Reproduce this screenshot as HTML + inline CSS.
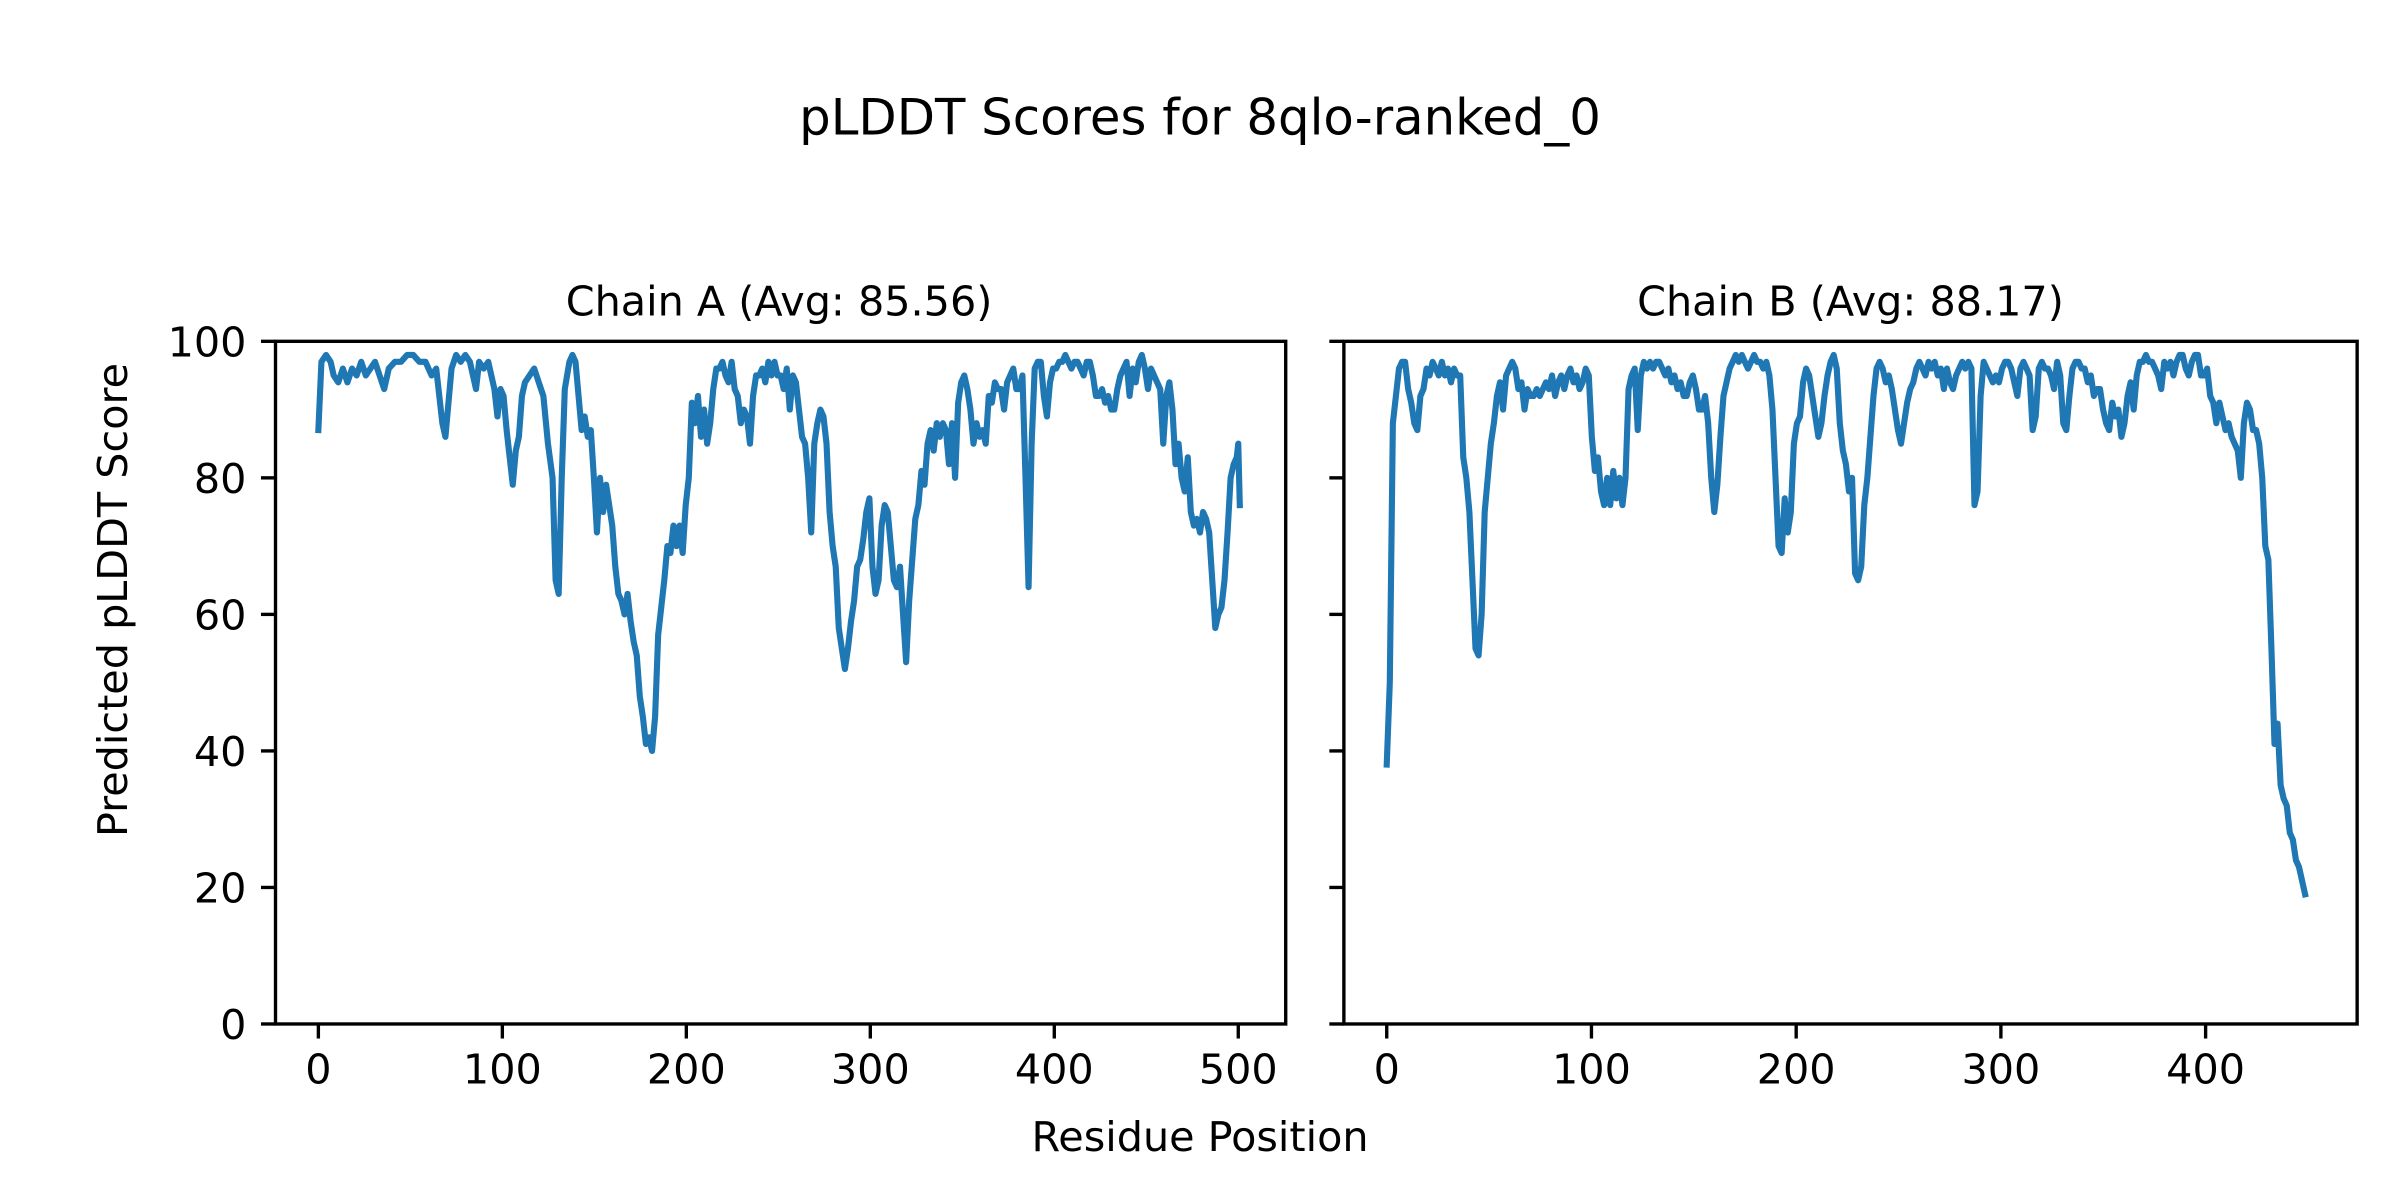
<!DOCTYPE html>
<html><head><meta charset="utf-8"><style>
html,body{margin:0;padding:0;background:#fff;}
svg{display:block;}
text{font-family:"DejaVu Sans","Liberation Sans",sans-serif;fill:#000;}
</style></head><body>
<svg id="s" xmlns="http://www.w3.org/2000/svg" width="2400" height="1200" viewBox="0 0 1568 784">
<rect width="1568" height="784" fill="#fff"/>
<text x="784" y="88" font-size="32.5" text-anchor="middle">pLDDT Scores for 8qlo-ranked_0</text>
<text x="509" y="206" font-size="27" text-anchor="middle">Chain A (Avg: 85.56)</text>
<text x="1209" y="206" font-size="27" text-anchor="middle">Chain B (Avg: 88.17)</text>
<text x="784" y="752" font-size="27" text-anchor="middle">Residue Position</text>
<text transform="translate(83,392) rotate(-90)" font-size="27" text-anchor="middle">Predicted pLDDT Score</text>
<g id="g"></g>
<rect x="180" y="223" width="660" height="446" fill="none" stroke="#000" stroke-width="2.2"/>
<rect x="878" y="223" width="662" height="446" fill="none" stroke="#000" stroke-width="2.2"/>
</svg>
<script>
var A=[208,87,210,97,213,98,216,97,218,95,221,94,224,96,227,94,230,96,233,95,236,97,239,95,242,96,245,97,248,95,251,93,254,96,258,97,262,97,266,98,270,98,274,97,278,97,282,95,285,96,287,92,289,88,291,86,293,91,295,96,298,98,301,97,304,98,307,97,309,95,311,93,313,97,316,96,319,97,321,95,323,93,325,89,327,93,329,92,331,87,333,83,335,79,337,84,339,86,341,92,343,94,346,95,349,96,352,94,355,92,358,85,361,80,363,65,365,63,367,80,369,93,372,97,374,98,376,97,378,92,380,87,382,89,384,86,386,87,388,80,390,72,392,80,394,75,396,79,398,76,400,73,402,67,404,63,406,62,408,60,410,63,412,59,414,56,416,54,418,48,420,45,422,41,424,42,426,40,428,45,430,57,432,61,434,65,436,70,438,69,440,73,442,70,444,73,446,69,448,76,450,80,452,91,454,88,456,92,458,86,460,90,462,85,464,88,466,93,468,96,470,96,472,97,474,95,476,94,478,97,480,93,482,92,484,88,486,90,488,89,490,85,492,92,494,95,496,95,498,96,500,94,502,97,504,95,506,97,508,95,510,95,512,93,514,96,516,90,518,95,520,94,522,90,524,86,526,85,528,80,530,72,532,85,534,88,536,90,538,89,540,85,542,75,544,70,546,67,548,58,550,55,552,52,554,55,556,59,558,62,560,67,562,68,564,71,566,75,568,77,570,67,572,63,574,65,576,73,578,76,580,75,582,70,584,65,586,64,588,67,590,60,592,53,594,62,596,68,598,74,600,76,602,81,604,79,606,85,608,87,610,84,612,88,614,86,616,88,618,87,620,82,622,88,624,80,626,91,628,94,630,95,632,93,634,90,636,85,638,88,640,86,642,87,644,85,646,92,648,91,650,94,652,93,654,93,656,90,658,94,660,95,662,96,664,93,666,93,668,95,670,80,672,64,674,85,676,96,678,97,680,97,682,92,684,89,686,94,688,96,690,96,692,97,694,97,696,98,698,97,700,96,702,97,704,97,706,96,708,95,710,97,712,97,714,95,716,92,718,92,720,93,722,91,724,92,726,90,728,90,730,93,732,95,734,96,736,97,738,92,740,96,742,94,744,97,746,98,748,96,750,93,752,96,754,95,756,94,758,93,760,85,762,92,764,94,766,90,768,82,770,85,772,80,774,78,776,83,778,75,780,73,782,74,784,72,786,75,788,74,790,72,792,65,794,58,796,60,798,61,800,65,802,72,804,80,806,82,808,83,809,85,810,76];
var B=[906,38,908,50,910,88,912,92,914,96,916,97,918,97,920,93,922,91,924,88,926,87,928,92,930,93,932,96,934,95,936,97,938,96,940,95,942,97,944,95,946,96,948,94,950,96,952,95,954,95,956,83,958,80,960,75,962,65,964,55,966,54,968,60,970,75,972,80,974,85,976,88,978,92,980,94,982,90,984,95,986,96,988,97,990,96,992,93,994,94,996,90,998,93,1000,92,1002,92,1004,93,1006,92,1008,93,1010,94,1012,93,1014,95,1016,92,1018,94,1020,95,1022,93,1024,95,1026,96,1028,94,1030,95,1032,93,1034,94,1036,96,1038,95,1040,86,1042,81,1044,83,1046,78,1048,76,1050,80,1052,76,1054,81,1056,77,1058,80,1060,76,1062,80,1064,93,1066,95,1068,96,1070,87,1072,95,1074,97,1076,96,1078,97,1080,96,1082,97,1084,97,1086,96,1088,95,1090,96,1092,94,1094,95,1096,93,1098,94,1100,92,1102,92,1104,94,1106,95,1108,93,1110,90,1112,90,1114,92,1116,88,1118,80,1120,75,1122,79,1124,86,1126,92,1128,94,1130,96,1132,97,1134,98,1136,97,1138,98,1140,97,1142,96,1144,97,1146,98,1148,97,1150,97,1152,96,1154,97,1156,95,1158,90,1160,80,1162,70,1164,69,1166,77,1168,72,1170,75,1172,85,1174,88,1176,89,1178,94,1180,96,1182,95,1184,92,1186,89,1188,86,1190,88,1192,92,1194,95,1196,97,1198,98,1200,96,1202,88,1204,84,1206,82,1208,78,1210,80,1212,66,1214,65,1216,67,1218,76,1220,80,1222,86,1224,92,1226,96,1228,97,1230,96,1232,94,1234,95,1236,93,1238,90,1240,87,1242,85,1244,88,1246,91,1248,93,1250,94,1252,96,1254,97,1256,96,1258,95,1260,97,1262,96,1264,97,1266,95,1268,96,1270,93,1272,96,1274,94,1276,93,1278,95,1280,96,1282,97,1284,96,1286,97,1288,96,1290,76,1292,78,1294,92,1296,97,1298,96,1300,95,1302,94,1304,95,1306,94,1308,96,1310,97,1312,97,1314,96,1316,94,1318,92,1320,96,1322,97,1324,96,1326,95,1328,87,1330,89,1332,96,1334,97,1336,96,1338,96,1340,95,1342,93,1344,97,1346,95,1348,88,1350,87,1352,92,1354,96,1356,97,1358,97,1360,96,1362,96,1364,94,1366,95,1368,92,1370,93,1372,93,1374,90,1376,88,1378,87,1380,91,1382,89,1384,90,1386,86,1388,88,1390,92,1392,94,1394,90,1396,95,1398,97,1400,97,1402,98,1404,97,1406,97,1408,96,1410,95,1412,93,1414,97,1416,96,1418,97,1420,95,1422,97,1424,98,1426,98,1428,96,1430,95,1432,97,1434,98,1436,98,1438,95,1440,95,1442,96,1444,92,1446,91,1448,88,1450,91,1452,89,1454,87,1456,88,1458,86,1460,85,1462,84,1464,80,1466,88,1468,91,1470,90,1472,87,1474,87,1476,85,1478,80,1480,70,1482,68,1484,55,1486,41,1488,44,1490,35,1492,33,1494,32,1496,28,1498,27,1500,24,1502,23,1504,21,1506,19];
var NS="http://www.w3.org/2000/svg",g=document.getElementById("g");
function el(n,a,t){var e=document.createElementNS(NS,n);for(var k in a)e.setAttribute(k,a[k]);if(t!=null)e.textContent=t;g.appendChild(e);return e;}
function Y(v){return 669-v*4.46;}
function line(d){var p=[];for(var i=0;i<d.length;i+=2)p.push(d[i]+","+Y(d[i+1]).toFixed(1));el("polyline",{points:p.join(" "),fill:"none",stroke:"#1f77b4","stroke-width":"4","stroke-linejoin":"round","stroke-linecap":"square"});}
line(A);line(B);
for(var v=0;v<=100;v+=20){var y=Y(v);
el("line",{x1:170.5,x2:180,y1:y,y2:y,stroke:"#000","stroke-width":"2.2"});
el("line",{x1:868.5,x2:878,y1:y,y2:y,stroke:"#000","stroke-width":"2.2"});
el("text",{x:161,y:y+9.8,"font-size":"27","text-anchor":"end"},String(v));}
for(var v=0;v<=500;v+=100){var x=208+v*1.202;
el("line",{x1:x,x2:x,y1:669,y2:678.5,stroke:"#000","stroke-width":"2.2"});
el("text",{x:x,y:708,"font-size":"27","text-anchor":"middle"},String(v));}
for(var v=0;v<=400;v+=100){var x=906+v*1.3375;
el("line",{x1:x,x2:x,y1:669,y2:678.5,stroke:"#000","stroke-width":"2.2"});
el("text",{x:x,y:708,"font-size":"27","text-anchor":"middle"},String(v));}
</script>
</body></html>
